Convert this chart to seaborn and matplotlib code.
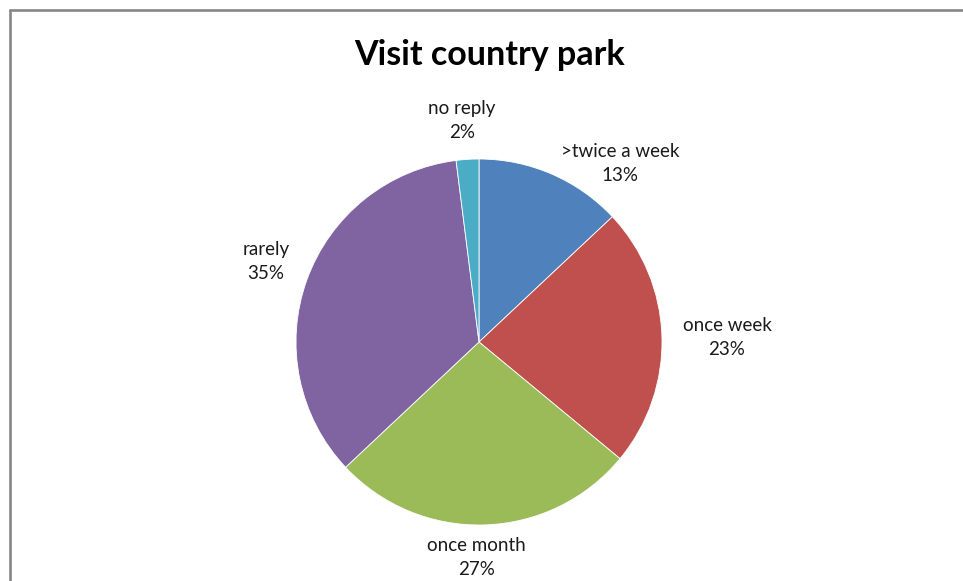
import matplotlib
matplotlib.use("Agg")
import matplotlib.pyplot as plt
from matplotlib.lines import Line2D
import seaborn as sns

# Survey answers: how often people visit the country park
categories = [">twice a week", "once week", "once month", "rarely", "no reply"]
shares = [13, 23, 27, 35, 2]
colors = ["#4F81BD", "#C0504D", "#9BBB59", "#8064A2", "#4BACC6"]
title = "Visit country park"

sns.set_theme(style="white")
plt.rcParams["font.family"] = ["Lato", "DejaVu Sans"]

W, H = 963, 581
fig = plt.figure(figsize=(W / 100, H / 100), dpi=100)
fig.patch.set_facecolor("white")

# pie centred at (479, 342) px with a 183 px radius
cx, cy, r = 479, 342, 183
ax = fig.add_axes([(cx - r) / W, (H - cy - r) / H, 2 * r / W, 2 * r / H])
wedges, _ = ax.pie(
    shares,
    colors=colors,
    startangle=90,
    counterclock=False,
    radius=1.0,
    wedgeprops=dict(linewidth=0.6, edgecolor="white"),
)
ax.set_xlim(-1, 1)
ax.set_ylim(-1, 1)
ax.set_aspect("equal")
ax.axis("off")

# data label placement (in pie radius units)
label_pos = [(0.770, 0.975), (1.355, 0.025), (-0.016, -1.175), (-1.164, 0.440), (-0.093, 1.210)]
for name, val, (lx, ly) in zip(categories, shares, label_pos):
    ax.text(lx, ly, f"{name}\n{val}%", ha="center", va="center",
            multialignment="center", fontsize=13.5, color="#1a1a1a",
            linespacing=1.5, clip_on=False)

fig.text(489 / W, 1 - 55 / H, title, ha="center", va="center",
         fontsize=24.5, fontweight="bold", color="black")

# chart area frame (left and top edges)
fx, fy = 9.5 / W, 1 - 9.5 / H
fig.add_artist(Line2D([fx, fx], [0, fy], transform=fig.transFigure,
                      color="#868686", linewidth=1.9))
fig.add_artist(Line2D([fx, 1], [fy, fy], transform=fig.transFigure,
                      color="#868686", linewidth=1.9))

fig.savefig("out.png", dpi=100, facecolor="white")
